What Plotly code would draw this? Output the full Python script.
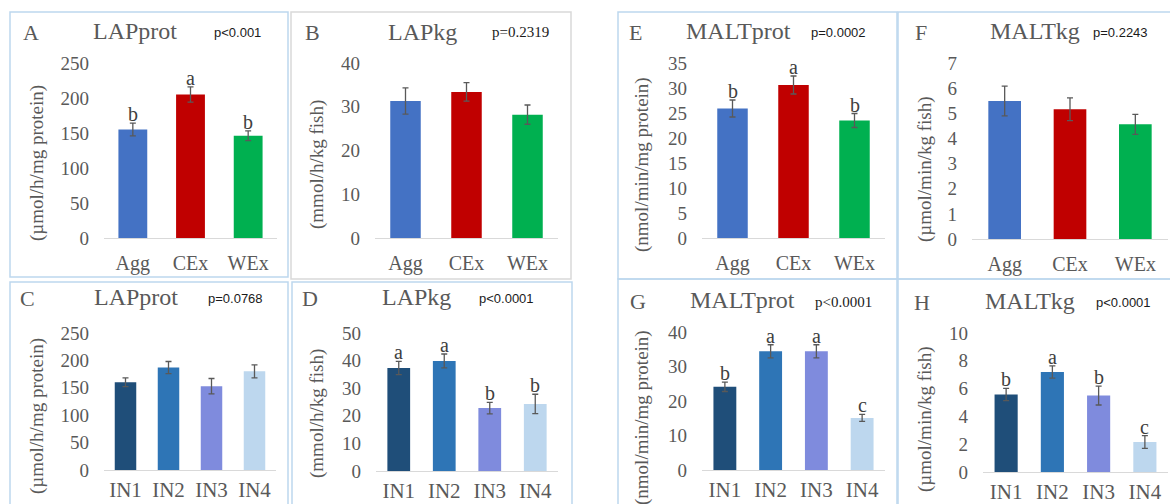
import plotly.graph_objects as go

W, H = 1170, 504

# ---------------- data ----------------
groups_top = ["Agg", "CEx", "WEx"]
groups_bot = ["IN1", "IN2", "IN3", "IN4"]
colors_top = ["#4472C4", "#C00000", "#00B050"]
colors_bot = ["#1F4E79", "#2E75B6", "#7F8BDD", "#BDD7EE"]

# A: LAPprot by group
lap_prot_grp = [155, 205, 146]
lap_prot_grp_err = [9, 11, 7]
lap_prot_grp_letters = ["b", "a", "b"]
# B: LAPkg by group
lap_kg_grp = [31.3, 33.4, 28.2]
lap_kg_grp_err = [3.0, 2.1, 2.2]
lap_kg_grp_letters = ["", "", ""]
# E: MALTprot by group
malt_prot_grp = [25.9, 30.6, 23.5]
malt_prot_grp_err = [1.7, 1.8, 1.4]
malt_prot_grp_letters = ["b", "a", "b"]
# F: MALTkg by group
malt_kg_grp = [5.49, 5.16, 4.56]
malt_kg_grp_err = [0.59, 0.45, 0.40]
malt_kg_grp_letters = ["", "", ""]

# C: LAPprot by IN
lap_prot_in = [160, 187, 153, 180]
lap_prot_in_err = [8, 11, 14, 12]
lap_prot_in_letters = ["", "", "", ""]
# D: LAPkg by IN
lap_kg_in = [37.3, 39.9, 22.8, 24.3]
lap_kg_in_err = [2.4, 2.5, 2.1, 3.5]
lap_kg_in_letters = ["a", "a", "b", "b"]
# G: MALTprot by IN
malt_prot_in = [24.1, 34.4, 34.4, 15.1]
malt_prot_in_err = [1.35, 1.9, 1.9, 1.0]
malt_prot_in_letters = ["b", "a", "a", "c"]
# H: MALTkg by IN
malt_kg_in = [5.57, 7.19, 5.5, 2.16]
malt_kg_in_err = [0.44, 0.44, 0.68, 0.46]
malt_kg_in_letters = ["b", "a", "b", "c"]

panel_letters = ["A", "B", "E", "F", "C", "D", "G", "H"]
panel_titles = ["LAPprot", "LAPkg", "MALTprot", "MALTkg",
                "LAPprot", "LAPkg", "MALTprot", "MALTkg"]
p_values = ["p<0.001", "p=0.2319", "p=0.0002", "p=0.2243",
            "p=0.0768", "p<0.0001", "p<0.0001", "p<0.0001"]
y_titles = ["(µmol/h/mg protein)", "(mmol/h/kg fish)", "(nmol/min/mg protein)",
            "(µmol/min/kg fish)", "(µmol/h/mg protein)", "(mmol/h/kg fish)",
            "(nmol/min/mg protein)", "(µmol/min/kg fish)"]
y_max = [250, 40, 35, 7, 250, 50, 40, 10]
y_step = [50, 10, 5, 1, 50, 10, 10, 2]

series = [
    (groups_top, colors_top, lap_prot_grp, lap_prot_grp_err, lap_prot_grp_letters),
    (groups_top, colors_top, lap_kg_grp, lap_kg_grp_err, lap_kg_grp_letters),
    (groups_top, colors_top, malt_prot_grp, malt_prot_grp_err, malt_prot_grp_letters),
    (groups_top, colors_top, malt_kg_grp, malt_kg_grp_err, malt_kg_grp_letters),
    (groups_bot, colors_bot, lap_prot_in, lap_prot_in_err, lap_prot_in_letters),
    (groups_bot, colors_bot, lap_kg_in, lap_kg_in_err, lap_kg_in_letters),
    (groups_bot, colors_bot, malt_prot_in, malt_prot_in_err, malt_prot_in_letters),
    (groups_bot, colors_bot, malt_kg_in, malt_kg_in_err, malt_kg_in_letters),
]

# ---------------- layout geometry (pixels) ----------------
plot_x = [(104, 277), (375, 558), (702, 885), (972, 1168),
          (104, 276), (376, 558), (702, 885), (983, 1168)]
plot_y = [(238, 63), (238, 63), (238, 63), (239, 63),
          (470, 333), (471, 333), (470, 332), (472, 333)]
letter_pos = [(31, 33), (312, 32), (635, 33), (921, 33),
              (27, 298), (310, 298), (638, 301), (922, 302)]
title_pos = [(135, 31), (422, 32), (738, 31), (1035, 31),
             (136, 297), (416, 297), (742, 300), (1030, 301)]
p_pos = [(237, 33), (520, 32), (838, 33), (1120, 33),
         (235, 298), (506, 298), (843, 302), (1123, 302)]
p_serif = [False, True, False, False, False, False, True, False]
ytitle_pos = [(37, 163), (317, 165), (642, 165), (925, 169),
              (37, 416), (317, 414), (642, 418), (925, 419)]
boxes = [((10, 12), (288, 277), "#BDD7EE"), ((291, 12), (571, 279), "#D9D9D9"),
         ((618, 12), (897, 279), "#BDD7EE"), ((898, 12), (1178, 279), "#BDD7EE"),
         ((10, 282), (288, 515), "#BDD7EE"), ((292, 282), (572, 515), "#BDD7EE"),
         ((618, 279), (897, 515), "#BDD7EE"), ((898, 279), (1178, 515), "#BDD7EE")]


def px(x):
    return x / W


def py(y):
    return 1 - y / H


SERIF = "Liberation Serif, Times New Roman, serif"
SANS = "Liberation Sans, Arial, sans-serif"
GRAY = "#595959"

fig = go.Figure()
annotations = []
shapes = []
layout_axes = {}

for i, (cats, cols, vals, errs, letts) in enumerate(series):
    n = i + 1
    xa = "x" if n == 1 else f"x{n}"
    ya = "y" if n == 1 else f"y{n}"
    fig.add_trace(go.Bar(
        x=cats, y=vals, xaxis=xa, yaxis=ya, width=0.5,
        marker=dict(color=cols, line=dict(width=0)),
        error_y=dict(type="data", array=errs, color=GRAY, thickness=1.3, width=3),
        showlegend=False, hoverinfo="x+y",
    ))
    bottom_row = i >= 4
    layout_axes["xaxis" if n == 1 else f"xaxis{n}"] = dict(
        domain=[px(plot_x[i][0]), px(plot_x[i][1])], anchor=ya,
        type="category", range=[-0.5, len(cats) - 0.5],
        showline=True, linecolor="#D9D9D9", linewidth=1,
        showgrid=False, zeroline=False, ticks="", automargin=False,
        tickfont=dict(family=SERIF, size=21 if bottom_row else 20, color=GRAY),
        ticklabelstandoff=1 if bottom_row else 7,
        fixedrange=True,
    )
    layout_axes["yaxis" if n == 1 else f"yaxis{n}"] = dict(
        domain=[py(plot_y[i][0]), py(plot_y[i][1])], anchor=xa,
        range=[0, y_max[i]], tickmode="array",
        tickvals=list(range(0, y_max[i] + 1, y_step[i])),
        showline=False, showgrid=False, zeroline=False, ticks="", automargin=False,
        tickfont=dict(family=SERIF, size=19, color=GRAY),
        ticklabelstandoff=14, fixedrange=True,
    )
    # significance letters
    for c, v, e, t in zip(cats, vals, errs, letts):
        if t:
            annotations.append(dict(
                x=c, y=v + e, xref=xa, yref=ya, text=t, showarrow=False,
                yanchor="bottom", yshift=-4,
                font=dict(family=SERIF, size=20, color="#404040"),
            ))
    # panel letter, title, p value
    annotations.append(dict(
        x=px(letter_pos[i][0]), y=py(letter_pos[i][1]), xref="paper", yref="paper",
        text=panel_letters[i], showarrow=False, xanchor="center", yanchor="middle",
        font=dict(family=SERIF, size=22, color=GRAY)))
    annotations.append(dict(
        x=px(title_pos[i][0]), y=py(title_pos[i][1]), xref="paper", yref="paper",
        text=panel_titles[i], showarrow=False, xanchor="center", yanchor="middle",
        font=dict(family=SERIF, size=24, color=GRAY)))
    annotations.append(dict(
        x=px(p_pos[i][0]), y=py(p_pos[i][1]), xref="paper", yref="paper",
        text=p_values[i], showarrow=False, xanchor="center", yanchor="middle",
        font=dict(family=SERIF if p_serif[i] else SANS,
                  size=15 if p_serif[i] else 13, color="#1A1A1A")))
    annotations.append(dict(
        x=px(ytitle_pos[i][0]), y=py(ytitle_pos[i][1]), xref="paper", yref="paper",
        text=y_titles[i], showarrow=False, textangle=-90,
        xanchor="center", yanchor="middle",
        font=dict(family=SERIF, size=19, color=GRAY)))
    (bx0, by0), (bx1, by1), bc = boxes[i]
    shapes.append(dict(
        type="rect", xref="paper", yref="paper",
        x0=px(bx0), x1=px(bx1), y0=py(by1), y1=py(by0),
        line=dict(color=bc, width=1.5), fillcolor="rgba(0,0,0,0)", layer="below"))

fig.update_layout(
    width=W, height=H, margin=dict(l=0, r=0, t=0, b=0, autoexpand=False),
    paper_bgcolor="white", plot_bgcolor="rgba(0,0,0,0)",
    annotations=annotations, shapes=shapes, bargap=0.5,
    **layout_axes,
)

fig.write_html(
    "out.html",
    config={"displayModeBar": False},
    post_script="document.documentElement.style.margin='0';"
                "document.body.style.margin='0';"
                "document.body.style.overflow='hidden';",
)
